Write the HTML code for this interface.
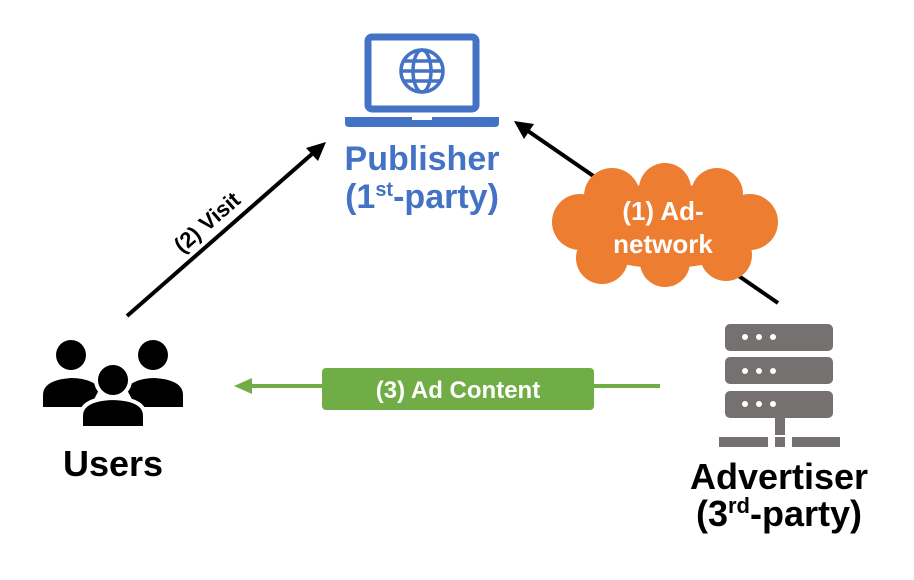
<!DOCTYPE html>
<html><head><style>
body{margin:0;background:#fff}
svg{display:block}
text{font-family:"Liberation Sans","NanumGothic",sans-serif;font-weight:bold}
</style></head><body>
<svg width="914" height="580" viewBox="0 0 914 580">
<!-- laptop -->
<rect x="368" y="37" width="108" height="72" rx="4" fill="none" stroke="#4472C4" stroke-width="7"/>
<path d="M345 117 H499 V123 Q499 127 495 127 H349 Q345 127 345 123 Z" fill="#4472C4"/>
<rect x="412" y="117" width="20" height="3" fill="#fff"/>
<g fill="none" stroke="#4472C4" stroke-width="3.5">
<circle cx="422" cy="71" r="21"/>
<ellipse cx="422" cy="71" rx="9" ry="21"/>
<line x1="401" y1="71" x2="443" y2="71"/>
<line x1="404" y1="61" x2="440" y2="61"/>
<line x1="404" y1="81" x2="440" y2="81"/>
</g>
<text x="422" y="170" font-size="34" fill="#4472C4" text-anchor="middle">Publisher</text>
<text x="422" y="208" font-size="34" fill="#4472C4" text-anchor="middle">(1<tspan font-size="20" dy="-12">st</tspan><tspan dy="12">-party)</tspan></text>
<!-- users -->
<g fill="#000">
<circle cx="71" cy="355" r="15"/>
<path d="M43 407 V395 Q43 380 71 378 Q90 378 100 388 L90 407 Z"/>
<circle cx="153" cy="355" r="15"/>
<path d="M183 407 V395 Q183 380 155 378 Q136 378 126 388 L136 407 Z"/>
<circle cx="113" cy="380" r="17" stroke="#fff" stroke-width="4"/>
<path d="M81 428 V416 Q81 399 113 398 Q145 399 145 416 V428 Z" stroke="#fff" stroke-width="4"/>
</g>
<text x="113" y="476" font-size="36" text-anchor="middle">Users</text>
<!-- server -->
<g fill="#767171">
<rect x="725" y="324" width="108" height="27" rx="5"/>
<rect x="725" y="357" width="108" height="27" rx="5"/>
<rect x="725" y="391" width="108" height="27" rx="5"/>
<rect x="775" y="418" width="10" height="17"/>
<rect x="719" y="437" width="49" height="10"/>
<rect x="775" y="437" width="10" height="10"/>
<rect x="792" y="437" width="48" height="10"/>
</g>
<g fill="#fff">
<circle cx="745" cy="337" r="3"/><circle cx="759" cy="337" r="3"/><circle cx="773" cy="337" r="3"/>
<circle cx="745" cy="371" r="3"/><circle cx="759" cy="371" r="3"/><circle cx="773" cy="371" r="3"/>
<circle cx="745" cy="404" r="3"/><circle cx="759" cy="404" r="3"/><circle cx="773" cy="404" r="3"/>
</g>
<text x="779" y="489" font-size="36" text-anchor="middle">Advertiser</text>
<text x="779" y="526" font-size="36" text-anchor="middle">(3<tspan font-size="22" dy="-13">rd</tspan><tspan dy="13">-party)</tspan></text>
<!-- visit arrow -->
<line x1="127" y1="316" x2="312" y2="154" stroke="#000" stroke-width="4"/>
<polygon points="326,142 306,148 318,161" fill="#000"/>
<text transform="translate(212,228) rotate(-41)" font-size="22" text-anchor="middle">(2) Visit</text>
<!-- adnetwork arrow -->
<line x1="778" y1="303" x2="528" y2="131" stroke="#000" stroke-width="4"/>
<polygon points="514,121 534,124 524,139" fill="#000"/>
<!-- cloud -->
<g fill="#ED7D31">
<ellipse cx="665" cy="226" rx="100" ry="42"/>
<circle cx="612" cy="196" r="28"/>
<circle cx="665" cy="189" r="26"/>
<circle cx="717" cy="194" r="26"/>
<circle cx="580" cy="222" r="28"/>
<circle cx="750" cy="222" r="28"/>
<circle cx="602" cy="258" r="26"/>
<circle cx="665" cy="262" r="25"/>
<circle cx="726" cy="255" r="26"/>
</g>
<text x="663" y="220" font-size="26" fill="#fff" text-anchor="middle">(1) Ad-</text>
<text x="663" y="253" font-size="26" fill="#fff" text-anchor="middle">network</text>
<!-- green -->
<line x1="660" y1="386" x2="250" y2="386" stroke="#70AD47" stroke-width="4"/>
<polygon points="234,386 252,378 252,394" fill="#70AD47"/>
<rect x="322" y="368" width="272" height="42" rx="4" fill="#70AD47"/>
<text x="458" y="398" font-size="24" fill="#fff" text-anchor="middle">(3) Ad Content</text>
</svg>
</body></html>
